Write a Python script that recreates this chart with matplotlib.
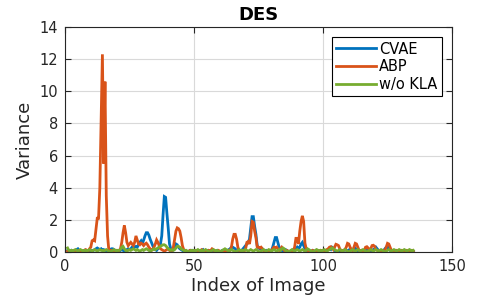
import numpy as np
import matplotlib
matplotlib.use("Agg")
import matplotlib.pyplot as plt

# image index positions (half-step samples from 1 to 135)
x_start, x_stop, x_step = 1.0, 135.0, 0.5

cvae = [
    0.1,0.05,0.0,0.1,0.05,0.0,0.1,0.15,0.2,0.1, 0.05,0.0,0.05,0.1,0.0,0.05,0.0,0.05,0.1,0.05,
    0.1,0.15,0.2,0.25,0.2,0.15,0.2,0.1,0.15,0.1, 0.05,0.0,0.05,0.15,0.2,0.2,0.15,0.1,0.05,0.1,
    0.05,0.1,0.15,0.1,0.05,0.1,0.15,0.2,0.15,0.2, 0.3,0.25,0.3,0.35,0.3,0.45,0.6,0.7,0.55,0.75,
    1.0,1.2,1.2,1.05,0.8,0.6,0.4,0.2,0.15,0.1, 0.2,0.3,0.5,1.0,2.3,3.45,3.4,2.4,1.5,0.5,
    0.2,0.1,0.15,0.3,0.5,0.45,0.3,0.2,0.15,0.1, 0.05,0.1,0.05,0.0,0.05,0.1,0.05,0.1,0.05,0.0,
    0.05,0.1,0.0,0.05,0.1,0.15,0.05,0.0,0.05,0.1, 0.05,0.0,0.1,0.05,0.0,0.05,0.1,0.05,0.0,0.05,
    0.1,0.05,0.0,0.05,0.1,0.15,0.2,0.3,0.3,0.25, 0.2,0.1,0.05,0.1,0.05,0.1,0.2,0.3,0.4,0.5,
    0.6,0.8,1.5,2.2,2.2,1.6,1.1,0.4,0.25,0.2, 0.25,0.2,0.1,0.05,0.1,0.05,0.1,0.05,0.1,0.3,
    0.6,0.9,0.9,0.6,0.3,0.15,0.1,0.05,0.1,0.15, 0.1,0.05,0.0,0.05,0.1,0.15,0.1,0.2,0.3,0.2,
    0.3,0.5,0.6,0.4,0.2,0.1,0.05,0.1,0.0,0.05, 0.1,0.05,0.0,0.05,0.1,0.05,0.0,0.05,0.1,0.05,
    0.05,0.1,0.15,0.2,0.15,0.3,0.25,0.1,0.05,0.0, 0.05,0.1,0.05,0.0,0.1,0.15,0.1,0.05,0.1,0.2,
    0.15,0.1,0.2,0.25,0.15,0.05,0.0,0.05,0.1,0.05, 0.0,0.05,0.1,0.15,0.1,0.05,0.1,0.15,0.2,0.3,
    0.2,0.1,0.05,0.0,0.05,0.1,0.2,0.3,0.35,0.2, 0.1,0.05,0.0,0.05,0.1,0.05,0.0,0.05,0.1,0.05,
    0.0,0.05,0.1,0.05,0.0,0.05,0.1,0.05,0.0,
]

abp = [
    0.05,0.1,0.05,0.0,0.05,0.1,0.05,0.0,0.05,0.1, 0.05,0.0,0.05,0.1,0.15,0.1,0.05,0.2,0.3,0.7,
    0.75,0.7,1.4,2.1,2.1,4.0,8.3,12.3,5.5,10.6, 3.5,1.0,0.1,0.05,0.1,0.05,0.0,0.05,0.1,0.05,
    0.1,0.2,0.6,1.2,1.65,1.2,0.6,0.4,0.5,0.6, 0.5,0.4,0.6,1.0,0.75,0.5,0.45,0.55,0.5,0.4,
    0.5,0.55,0.45,0.3,0.2,0.1,0.15,0.3,0.5,0.75, 0.6,0.4,0.2,0.15,0.1,0.05,0.1,0.15,0.2,0.1,
    0.05,0.1,0.3,0.8,1.3,1.5,1.45,1.3,0.9,0.4, 0.15,0.1,0.05,0.0,0.05,0.1,0.05,0.0,0.05,0.1,
    0.05,0.0,0.05,0.1,0.15,0.1,0.05,0.0,0.05,0.1, 0.05,0.1,0.2,0.15,0.05,0.0,0.05,0.1,0.05,0.0,
    0.05,0.1,0.05,0.0,0.05,0.1,0.1,0.3,0.8,1.1, 1.1,0.8,0.3,0.1,0.05,0.0,0.1,0.05,0.2,0.6,
    0.65,0.5,1.0,1.9,1.85,1.3,0.9,0.3,0.3,0.25, 0.3,0.2,0.1,0.05,0.0,0.05,0.1,0.05,0.1,0.2,
    0.3,0.25,0.3,0.2,0.1,0.2,0.3,0.2,0.1,0.05, 0.1,0.05,0.0,0.05,0.1,0.05,0.3,0.85,0.85,0.5,
    1.3,1.9,2.25,1.9,0.55,0.2,0.1,0.05,0.0,0.05, 0.1,0.05,0.0,0.05,0.1,0.05,0.1,0.05,0.1,0.05,
    0.1,0.15,0.2,0.3,0.33,0.25,0.15,0.3,0.48,0.45, 0.4,0.2,0.1,0.05,0.1,0.15,0.3,0.54,0.5,0.3,
    0.15,0.1,0.3,0.54,0.5,0.3,0.1,0.05,0.1,0.05, 0.1,0.3,0.33,0.25,0.1,0.2,0.4,0.42,0.35,0.15,
    0.1,0.05,0.0,0.05,0.1,0.05,0.1,0.3,0.54,0.5, 0.3,0.1,0.05,0.0,0.05,0.1,0.05,0.0,0.05,0.1,
    0.05,0.0,0.05,0.1,0.05,0.0,0.05,0.1,0.05,
]

wo_kla = [
    0.25,0.1,0.05,0.1,0.05,0.1,0.15,0.1,0.05,0.1, 0.15,0.1,0.05,0.1,0.1,0.05,0.1,0.15,0.1,0.05,
    0.1,0.15,0.1,0.05,0.1,0.15,0.1,0.1,0.05,0.1, 0.15,0.1,0.05,0.0,0.05,0.1,0.15,0.1,0.05,0.1,
    0.1,0.15,0.3,0.35,0.2,0.1,0.05,0.1,0.15,0.1, 0.15,0.2,0.15,0.1,0.15,0.1,0.05,0.1,0.15,0.1,
    0.15,0.2,0.15,0.1,0.05,0.1,0.15,0.2,0.15,0.2, 0.25,0.3,0.35,0.4,0.45,0.45,0.4,0.3,0.2,0.15,
    0.1,0.15,0.1,0.15,0.25,0.35,0.35,0.3,0.2,0.15, 0.1,0.05,0.1,0.05,0.0,0.05,0.1,0.05,0.1,0.05,
    0.1,0.15,0.1,0.05,0.1,0.05,0.1,0.15,0.1,0.05, 0.0,0.05,0.1,0.15,0.1,0.05,0.1,0.05,0.0,0.05,
    0.1,0.15,0.2,0.15,0.1,0.05,0.1,0.15,0.1,0.05, 0.0,0.05,0.1,0.15,0.1,0.05,0.1,0.1,0.15,0.1,
    0.05,0.1,0.15,0.1,0.05,0.1,0.15,0.1,0.05,0.0, 0.05,0.1,0.15,0.1,0.05,0.1,0.15,0.1,0.05,0.1,
    0.15,0.1,0.05,0.1,0.15,0.1,0.2,0.25,0.2,0.1, 0.05,0.0,0.05,0.1,0.15,0.1,0.05,0.1,0.15,0.1,
    0.05,0.1,0.15,0.1,0.05,0.1,0.2,0.15,0.1,0.05, 0.0,0.05,0.1,0.15,0.1,0.05,0.1,0.05,0.1,0.15,
    0.1,0.05,0.1,0.15,0.2,0.25,0.2,0.15,0.1,0.05, 0.1,0.15,0.1,0.05,0.1,0.15,0.1,0.05,0.0,0.05,
    0.1,0.15,0.1,0.05,0.1,0.15,0.1,0.05,0.1,0.15, 0.1,0.05,0.0,0.05,0.1,0.15,0.1,0.05,0.1,0.15,
    0.1,0.05,0.1,0.15,0.1,0.05,0.0,0.05,0.1,0.15, 0.1,0.05,0.1,0.15,0.1,0.05,0.1,0.15,0.1,0.05,
    0.1,0.15,0.1,0.05,0.1,0.15,0.1,0.05,0.1,
]

labels = ["CVAE", "ABP", "w/o KLA"]
colors = ["#0072BD", "#D95319", "#77AC30"]
x_ticks = [0, 50, 100, 150]
y_ticks = [0, 2, 4, 6, 8, 10, 12, 14]

x = np.arange(x_start, x_stop + x_step / 2, x_step)

txt = "#262626"
plt.rcParams["font.family"] = ["DejaVu Sans"]
fig = plt.figure(figsize=(5.01, 3.0), dpi=100)
ax = fig.add_axes([65 / 501, 48 / 300, 387 / 501, 225 / 300])

for series, lab, col in zip([cvae, abp, wo_kla], labels, colors):
    ax.plot(x[:len(series)], series, color=col, lw=2.0, label=lab,
            solid_joinstyle="miter")

ax.set_xlim(0, 150)
ax.set_ylim(0, 14)
ax.set_xticks(x_ticks)
ax.set_yticks(y_ticks)
ax.grid(True, color="#d9d9d9", lw=0.8)
ax.set_axisbelow(True)
ax.tick_params(direction="in", length=4, width=0.8, top=True, right=True,
               labelsize=10.5, colors=txt, pad=5)
for s in ax.spines.values():
    s.set_color(txt)
    s.set_linewidth(0.8)

ax.set_xlabel("Index of Image", fontsize=13, color=txt, labelpad=2)
ax.set_ylabel("Variance", fontsize=13, color=txt, labelpad=4)
ax.set_title("DES", fontsize=13, fontweight="bold", color="black", pad=5)

leg = ax.legend(loc="upper right", fontsize=10.5, handlelength=2.7,
                borderaxespad=0.7, fancybox=False, framealpha=1,
                edgecolor="black", borderpad=0.3, labelspacing=0.18,
                handletextpad=0.25)
leg.get_frame().set_linewidth(0.8)

fig.savefig("out.png", dpi=100)
